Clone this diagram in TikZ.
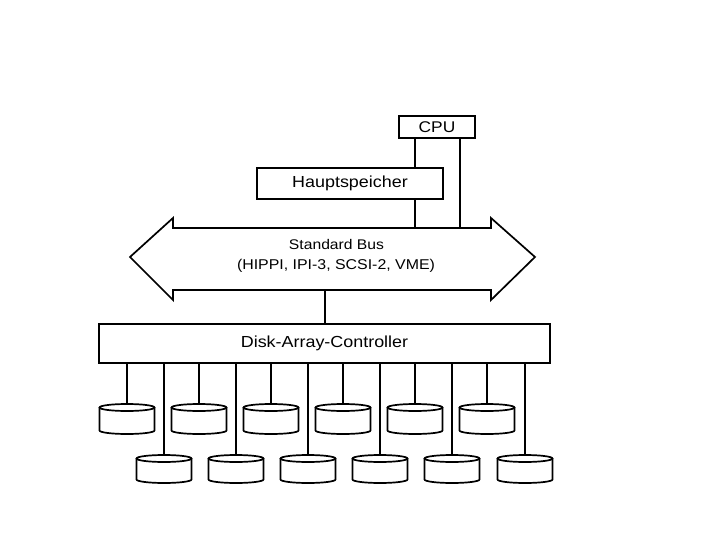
\documentclass[tikz,border=0pt]{standalone}
\usepackage{fontspec}
\setmainfont{Liberation Sans}[FakeStretch=1.12]
\begin{document}
\begin{tikzpicture}[x=1pt,y=-1pt,line width=1.7pt,
  box/.style={draw,rectangle,inner sep=0pt,line width=1.7pt},
  conn/.style={line width=1.7pt},
  lbl/.style={inner sep=0pt}]
\useasboundingbox (0,0) rectangle (720,540);
% CPU and memory
\node[box,minimum width=76pt,minimum height=22pt] (cpu) at (437,127) {\fontsize{15.5}{18}\selectfont CPU};
\node[box,minimum width=186pt,minimum height=31pt] (mem) at (350,183.5) {\fontsize{16}{19}\selectfont Hauptspeicher};
% Bus (double arrow)
\draw[line width=1.7pt,line join=miter] (173,228) -- (491,228) -- (491,218) -- (535,257) -- (491,300) -- (491,290)
  -- (173,290) -- (173,300) -- (130,257) -- (173,218) -- cycle;
\node[lbl] (bustitle) at (336.5,244) {\fontsize{14}{17}\selectfont Standard Bus};
\node[lbl] (bustypes) at (336,266) {\fontsize{14.2}{17}\selectfont (HIPPI, IPI-3, SCSI-2, VME)};
\coordinate (b1) at (415,228);
\coordinate (b2) at (460,228);
\coordinate (b3) at (325,290);
\draw[conn] (cpu.south -| b1) -- (mem.north -| b1);
\draw[conn] (mem.south -| b1) -- (b1);
\draw[conn] (cpu.south -| b2) -- (b2);
% Controller
\node[box,minimum width=451pt,minimum height=39pt] (ctl) at (324.5,343.5) {\fontsize{16}{19}\selectfont Disk-Array-Controller};
\draw[conn] (b3) -- (ctl.north -| b3);
% Upper disks
\foreach \x [count=\i] in {127,199,271,343,415,487} {
  \coordinate (u\i) at (\x,404);
  \draw[conn] (ctl.south -| u\i) -- (u\i);
  \draw (\x,407.5) ellipse [x radius=27.5, y radius=3.5];
  \draw (\x-27.5,407.5) -- (\x-27.5,430.5) arc [start angle=180, end angle=0, x radius=27.5, y radius=3.5] -- (\x+27.5,407.5);
}
% Lower disks
\foreach \x [count=\i] in {164,236,308,380,452,525} {
  \coordinate (l\i) at (\x,455);
  \draw[conn] (ctl.south -| l\i) -- (l\i);
  \draw (\x,458.5) ellipse [x radius=27.5, y radius=3.5];
  \draw (\x-27.5,458.5) -- (\x-27.5,479.5) arc [start angle=180, end angle=0, x radius=27.5, y radius=3.5] -- (\x+27.5,458.5);
}
\end{tikzpicture}
\end{document}
